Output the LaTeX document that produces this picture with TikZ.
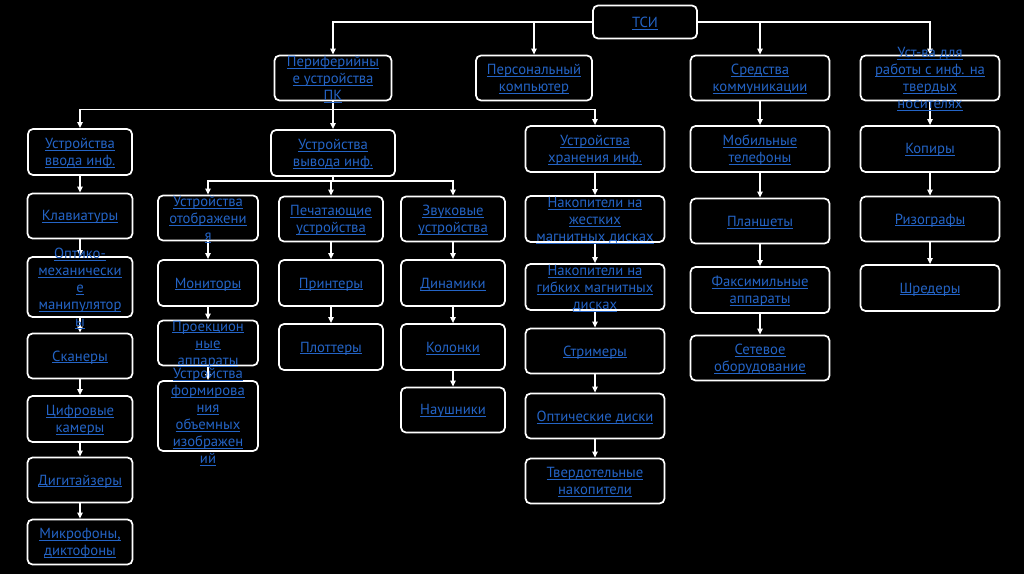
\documentclass[tikz,border=0pt]{standalone}
\usepackage{fontspec}
\setmainfont{PT Sans}
\usepackage{tikz}
\usetikzlibrary{arrows.meta,backgrounds}
\definecolor{lnkblue}{RGB}{36,100,198}
\newlength\pxl
\setlength\pxl{0.75pt}
\newcommand\lnk[1]{\setbox0\hbox{#1}\rlap{\color{lnkblue}\rule[-1.6pt]{\wd0}{0.55pt}}\box0}

\begin{document}
\begin{tikzpicture}[x=1\pxl,y=-1\pxl,
  txt/.style={text=lnkblue,align=center,yshift=-1pt,font=\fontsize{11}{12.75}\selectfont},
  blk/.style n args={3}{draw=white,line width=1.3pt,fill=black,rounded corners=5\pxl,inner sep=0pt,minimum width=#1\pxl,minimum height=#2\pxl,label={[txt]center:#3}},
  arr/.style={white,line width=1pt,-{Triangle[length=4.5pt,width=4pt]}}]
\useasboundingbox (0,0) rectangle (1024,574);
% top levels
\node[blk={104}{33}{\lnk{ТСИ}}] (tsi) at (645,22) {};
\node[blk={117}{45}{\lnk{Периферийны}\\\lnk{е устройства}\\\lnk{ПК}}] (per) at (333,78) {};
\node[blk={116}{45}{\lnk{Персональный}\\\lnk{компьютер}}] (pc) at (534,78) {};
\node[blk={139}{45}{\lnk{Средства}\\\lnk{коммуникации}}] (com) at (760,78) {};
\node[blk={139}{45}{\lnk{Уст-ва для}\\\lnk{работы с инф. на}\\\lnk{твердых}\\\lnk{носителях}}] (tvn) at (930,78) {};
\node[blk={104}{46}{\lnk{Устройства}\\\lnk{ввода инф.}}] (vvod) at (80,152) {};
\node[blk={124}{46}{\lnk{Устройства}\\\lnk{вывода инф.}}] (vyv) at (333,153) {};
\node[blk={139}{46}{\lnk{Устройства}\\\lnk{хранения инф.}}] (hran) at (595,149) {};
% input devices
\node[blk={105}{45}{\lnk{Клавиатуры}}] (klav) at (80,216) {};
\node[blk={105}{60}{\lnk{Оптико-}\\\lnk{механически}\\\lnk{е}\\\lnk{манипулятор}\\\lnk{ы}}] (mani) at (80,287) {};
\node[blk={105}{45}{\lnk{Сканеры}}] (scan) at (80,356) {};
\node[blk={105}{46}{\lnk{Цифровые}\\\lnk{камеры}}] (cam) at (80,419) {};
\node[blk={105}{45}{\lnk{Дигитайзеры}}] (digi) at (80,480) {};
\node[blk={105}{45}{\lnk{Микрофоны,}\\\lnk{диктофоны}}] (mic) at (80,542) {};
% output devices
\node[blk={100}{45}{\lnk{Устройства}\\\lnk{отображени}\\\lnk{я}}] (otob) at (208,218) {};
\node[blk={100}{46}{\lnk{Мониторы}}] (mon) at (208,283) {};
\node[blk={100}{45}{\lnk{Проекцион}\\\lnk{ные}\\\lnk{аппараты}}] (proj) at (208,343) {};
\node[blk={100}{70}{\lnk{Устройства}\\\lnk{формирова}\\\lnk{ния}\\\lnk{объемных}\\\lnk{изображен}\\\lnk{ий}}] (vol) at (208,416) {};
\node[blk={104}{45}{\lnk{Печатающие}\\\lnk{устройства}}] (pech) at (331,219) {};
\node[blk={104}{46}{\lnk{Принтеры}}] (prn) at (331,283) {};
\node[blk={104}{46}{\lnk{Плоттеры}}] (plot) at (331,347) {};
\node[blk={104}{45}{\lnk{Звуковые}\\\lnk{устройства}}] (zvuk) at (453,219) {};
\node[blk={104}{46}{\lnk{Динамики}}] (dyn) at (453,283) {};
\node[blk={104}{46}{\lnk{Колонки}}] (kol) at (453,347) {};
\node[blk={104}{45}{\lnk{Наушники}}] (naush) at (453,410) {};
% storage
\node[blk={139}{46}{\lnk{Накопители на}\\\lnk{жестких}\\\lnk{магнитных дисках}}] (hdd) at (595,219) {};
\node[blk={139}{46}{\lnk{Накопители на}\\\lnk{гибких магнитных}\\\lnk{дисках}}] (fdd) at (595,287) {};
\node[blk={139}{45}{\lnk{Стримеры}}] (strm) at (595,351) {};
\node[blk={139}{45}{\lnk{Оптические диски}}] (odd) at (595,416) {};
\node[blk={139}{45}{\lnk{Твердотельные}\\\lnk{накопители}}] (ssd) at (595,481) {};
% communication
\node[blk={139}{46}{\lnk{Мобильные}\\\lnk{телефоны}}] (mob) at (760,149) {};
\node[blk={139}{45}{\lnk{Планшеты}}] (plan) at (760,221) {};
\node[blk={139}{46}{\lnk{Факсимильные}\\\lnk{аппараты}}] (fax) at (760,290) {};
\node[blk={139}{45}{\lnk{Сетевое}\\\lnk{оборудование}}] (net) at (760,358) {};
% hard copy
\node[blk={139}{46}{\lnk{Копиры}}] (kop) at (930,149) {};
\node[blk={139}{45}{\lnk{Ризографы}}] (riz) at (930,219) {};
\node[blk={139}{46}{\lnk{Шредеры}}] (shred) at (930,288) {};
\begin{scope}[on background layer]
\fill[black] (0,0) rectangle (1024,574);
\draw[arr] (tsi.west) -| (per.north);
\draw[arr] (tsi.east) -| (tvn.north);
\draw[arr] (tsi.west -| pc.north) -- (pc.north);
\draw[arr] (tsi.east -| com.north) -- (com.north);
\draw[white,line width=1pt] (per.south) -- ++(0,8) coordinate (j1);
\draw[arr] (j1) -| (vvod.north);
\draw[arr] (j1) -| (hran.north);
\draw[arr] (j1) -- (vyv.north);
\draw[white,line width=1pt] (vyv.south) -- ++(0,4) coordinate (j2);
\draw[arr] (j2) -| (otob.north);
\draw[arr] (j2) -| (pech.north);
\draw[arr] (j2) -| (zvuk.north);
\foreach \a/\b in {vvod/klav,klav/mani,mani/scan,scan/cam,cam/digi,digi/mic,
  otob/mon,mon/proj,proj/vol,pech/prn,prn/plot,zvuk/dyn,dyn/kol,kol/naush,
  hran/hdd,hdd/fdd,fdd/strm,strm/odd,odd/ssd,com/mob,mob/plan,plan/fax,fax/net,
  tvn/kop,kop/riz,riz/shred} {
  \draw[arr] (\a.south) -- (\b.north);
}
\end{scope}
\end{tikzpicture}
\end{document}
